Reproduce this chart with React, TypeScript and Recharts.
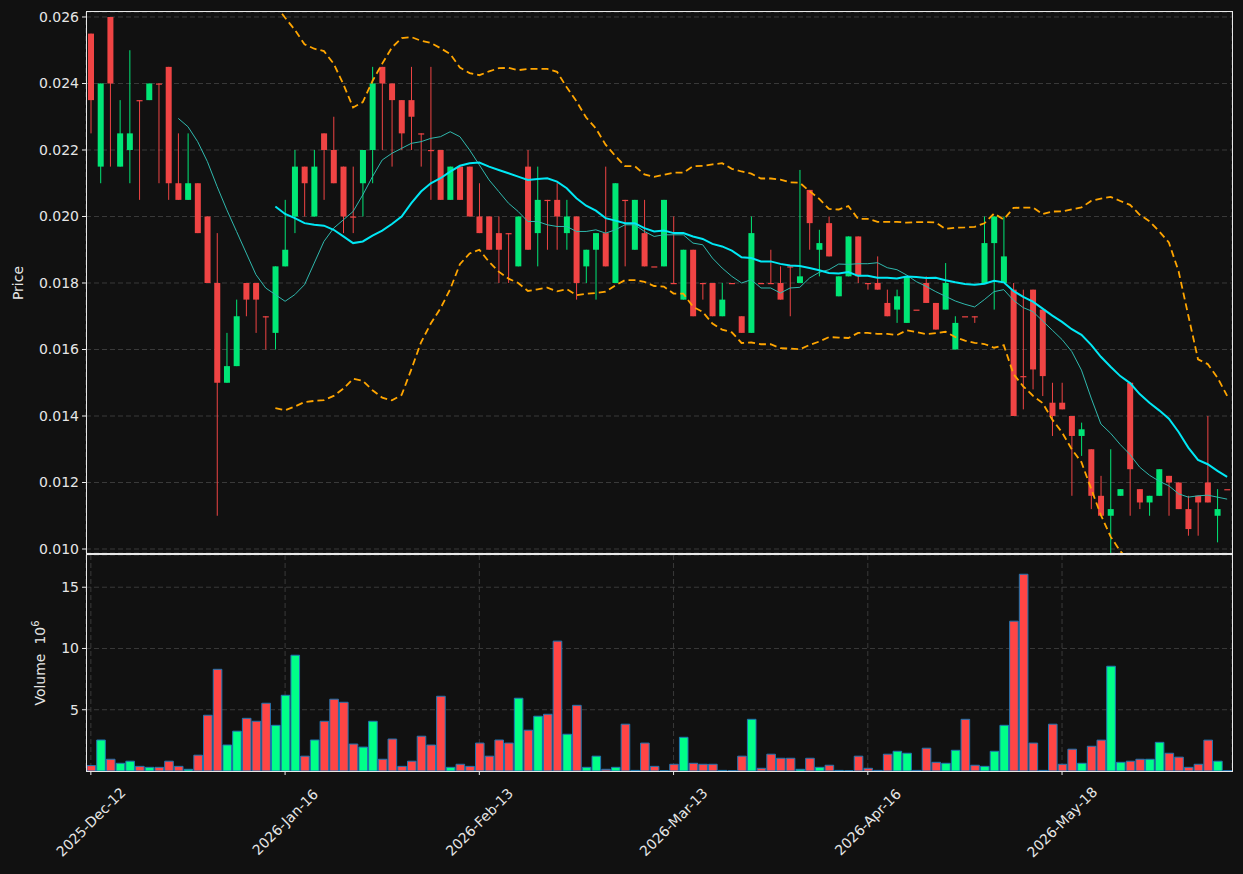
import React from 'react';
import { ComposedChart, Bar, Line, XAxis, YAxis, CartesianGrid, Cell } from 'recharts';

const tickLabels = ['2025-Dec-12', '2026-Jan-16', '2026-Feb-13', '2026-Mar-13', '2026-Apr-16', '2026-May-18'];
const tickIndexes = [0, 20, 40, 60, 80, 100];
const priceTicks = [0.010, 0.012, 0.014, 0.016, 0.018, 0.020, 0.022, 0.024, 0.026];
const volumeTicks = [5, 10, 15];

const opens = [
  0.0255, 0.0215, 0.0260, 0.0215, 0.0220, 0.0235, 0.0235, 0.0240, 0.0245, 0.0210,
  0.0205, 0.0210, 0.0200, 0.0180, 0.0150, 0.0155, 0.0180, 0.0180, 0.0170, 0.0165,
  0.0185, 0.0200, 0.0215, 0.0200, 0.0225, 0.0220, 0.0215, 0.0200, 0.0210, 0.0220,
  0.0245, 0.0240, 0.0235, 0.0235, 0.0225, 0.0220, 0.0220, 0.0205, 0.0215, 0.0215,
  0.0200, 0.0200, 0.0195, 0.0195, 0.0185, 0.0215, 0.0195, 0.0205, 0.0205, 0.0195,
  0.0200, 0.0185, 0.0190, 0.0195, 0.0180, 0.0205, 0.0190, 0.0195, 0.0185, 0.0185,
  0.0180, 0.0175, 0.0190, 0.0180, 0.0180, 0.0170, 0.0180, 0.0170, 0.0165, 0.0180,
  0.0180, 0.0180, 0.0185, 0.0180, 0.0208, 0.0190, 0.0198, 0.0176, 0.0182, 0.0194,
  0.0180, 0.0180, 0.0174, 0.0172, 0.0168, 0.0172, 0.0180, 0.0174, 0.0172, 0.0160,
  0.0170, 0.0170, 0.0180, 0.0192, 0.0180, 0.0178, 0.0152, 0.0178, 0.0172, 0.0144,
  0.0144, 0.0140, 0.0134, 0.0130, 0.0116, 0.0110, 0.0116, 0.0150, 0.0118, 0.0114,
  0.0116, 0.0122, 0.0120, 0.0112, 0.0116, 0.0120, 0.0110, 0.0118,
];
const highs = [
  0.0255, 0.0240, 0.0260, 0.0235, 0.0250, 0.0235, 0.0240, 0.0240, 0.0245, 0.0225,
  0.0225, 0.0210, 0.0200, 0.0195, 0.0165, 0.0175, 0.0180, 0.0180, 0.0170, 0.0185,
  0.0205, 0.0220, 0.0215, 0.0220, 0.0225, 0.0230, 0.0215, 0.0215, 0.0220, 0.0245,
  0.0245, 0.0240, 0.0235, 0.0245, 0.0225, 0.0245, 0.0220, 0.0215, 0.0215, 0.0215,
  0.0210, 0.0200, 0.0200, 0.0195, 0.0200, 0.0220, 0.0215, 0.0205, 0.0210, 0.0205,
  0.0200, 0.0190, 0.0195, 0.0215, 0.0210, 0.0205, 0.0205, 0.0205, 0.0185, 0.0205,
  0.0200, 0.0190, 0.0190, 0.0180, 0.0180, 0.0180, 0.0180, 0.0170, 0.0200, 0.0180,
  0.0190, 0.0185, 0.0185, 0.0214, 0.0208, 0.0196, 0.0200, 0.0182, 0.0194, 0.0194,
  0.0180, 0.0188, 0.0178, 0.0178, 0.0182, 0.0172, 0.0182, 0.0174, 0.0186, 0.0170,
  0.0170, 0.0170, 0.0200, 0.0200, 0.0200, 0.0180, 0.0178, 0.0178, 0.0172, 0.0150,
  0.0150, 0.0140, 0.0138, 0.0130, 0.0122, 0.0130, 0.0118, 0.0150, 0.0118, 0.0116,
  0.0124, 0.0122, 0.0120, 0.0116, 0.0116, 0.0140, 0.0118, 0.0118,
];
const lows = [
  0.0225, 0.0210, 0.0215, 0.0215, 0.0210, 0.0205, 0.0235, 0.0210, 0.0205, 0.0205,
  0.0205, 0.0195, 0.0180, 0.0110, 0.0150, 0.0155, 0.0170, 0.0165, 0.0160, 0.0160,
  0.0185, 0.0195, 0.0200, 0.0200, 0.0205, 0.0210, 0.0195, 0.0195, 0.0200, 0.0210,
  0.0220, 0.0215, 0.0220, 0.0220, 0.0215, 0.0205, 0.0205, 0.0205, 0.0205, 0.0200,
  0.0195, 0.0190, 0.0180, 0.0180, 0.0185, 0.0190, 0.0185, 0.0190, 0.0190, 0.0190,
  0.0175, 0.0180, 0.0175, 0.0185, 0.0180, 0.0185, 0.0190, 0.0185, 0.0185, 0.0185,
  0.0180, 0.0175, 0.0170, 0.0175, 0.0170, 0.0170, 0.0180, 0.0165, 0.0165, 0.0180,
  0.0180, 0.0175, 0.0170, 0.0180, 0.0190, 0.0182, 0.0188, 0.0176, 0.0182, 0.0180,
  0.0178, 0.0178, 0.0170, 0.0168, 0.0168, 0.0172, 0.0174, 0.0166, 0.0172, 0.0160,
  0.0170, 0.0168, 0.0180, 0.0172, 0.0180, 0.0140, 0.0142, 0.0148, 0.0146, 0.0134,
  0.0142, 0.0116, 0.0128, 0.0112, 0.0110, 0.0098, 0.0116, 0.0110, 0.0112, 0.0110,
  0.0116, 0.0110, 0.0112, 0.0104, 0.0104, 0.0114, 0.0102, 0.0118,
];
const closes = [
  0.0235, 0.0240, 0.0240, 0.0225, 0.0225, 0.0235, 0.0240, 0.0240, 0.0210, 0.0205,
  0.0210, 0.0195, 0.0180, 0.0150, 0.0155, 0.0170, 0.0175, 0.0175, 0.0170, 0.0185,
  0.0190, 0.0215, 0.0210, 0.0215, 0.0220, 0.0210, 0.0200, 0.0200, 0.0220, 0.0240,
  0.0240, 0.0235, 0.0225, 0.0230, 0.0225, 0.0220, 0.0205, 0.0215, 0.0205, 0.0200,
  0.0195, 0.0190, 0.0190, 0.0195, 0.0200, 0.0190, 0.0205, 0.0205, 0.0200, 0.0200,
  0.0180, 0.0190, 0.0195, 0.0185, 0.0210, 0.0205, 0.0205, 0.0185, 0.0185, 0.0205,
  0.0180, 0.0190, 0.0170, 0.0180, 0.0170, 0.0175, 0.0180, 0.0165, 0.0195, 0.0180,
  0.0180, 0.0175, 0.0185, 0.0182, 0.0198, 0.0192, 0.0188, 0.0182, 0.0194, 0.0182,
  0.0180, 0.0178, 0.0170, 0.0176, 0.0182, 0.0172, 0.0174, 0.0166, 0.0180, 0.0168,
  0.0170, 0.0170, 0.0192, 0.0200, 0.0188, 0.0140, 0.0152, 0.0154, 0.0152, 0.0140,
  0.0142, 0.0134, 0.0136, 0.0116, 0.0110, 0.0112, 0.0118, 0.0124, 0.0114, 0.0116,
  0.0124, 0.0120, 0.0112, 0.0106, 0.0114, 0.0114, 0.0112, 0.0118,
];
// volume in millions
const volumes = [
  0.44, 2.53, 0.96, 0.63, 0.80, 0.38, 0.30, 0.30, 0.80, 0.38,
  0.14, 1.29, 4.55, 8.30, 2.12, 3.25, 4.30, 4.06, 5.53, 3.73,
  6.18, 9.45, 1.21, 2.53, 4.06, 5.86, 5.61, 2.20, 1.95, 4.06,
  0.96, 2.61, 0.38, 0.80, 2.84, 2.12, 6.10, 0.30, 0.55, 0.38,
  2.28, 1.21, 2.53, 2.28, 5.94, 3.33, 4.47, 4.63, 10.60, 3.00,
  5.36, 0.30, 1.21, 0.14, 0.30, 3.82, 0.05, 2.28, 0.38, 0.02,
  0.55, 2.75, 0.63, 0.55, 0.55, 0.05, 0.02, 1.21, 4.22, 0.22,
  1.37, 1.04, 1.04, 0.14, 1.04, 0.30, 0.47, 0.05, 0.02, 1.21,
  0.22, 0.05, 1.37, 1.61, 1.45, 0.05, 1.86, 0.71, 0.63, 1.69,
  4.22, 0.47, 0.38, 1.61, 3.73, 12.23, 16.06, 2.28, 0.05, 3.82,
  0.55, 1.78, 0.63, 2.02, 2.52, 8.55, 0.71, 0.80, 0.96, 0.96,
  2.34, 1.45, 1.13, 0.30, 0.55, 2.52, 0.80, 0.02,
];

const UP = '#00e676';
const DOWN = '#ef4444';
const VOL_UP = '#00ff88';
const VOL_DOWN = '#ff4545';
const GRID = '#3a3a3a';
const TEXT = '#e6e6e6';
const FRAME = '#e8e8e8';

// Indicators derived from the read closes (10 & 20 period SMA, 20-period Bollinger bands)
const smaAt = (n: number, i: number): number | null => {
  if (i < n - 1) return null;
  let s = 0;
  for (let k = i - n + 1; k <= i; k++) s += closes[k];
  return s / n;
};
const stdAt = (n: number, i: number): number | null => {
  const m = smaAt(n, i);
  if (m === null) return null;
  let s = 0;
  for (let k = i - n + 1; k <= i; k++) s += (closes[k] - m) * (closes[k] - m);
  return Math.sqrt(s / n);
};

const rows = closes.map((c, i) => {
  const m20 = smaAt(20, i);
  const sd = stdAt(20, i);
  return {
    i,
    open: opens[i],
    high: highs[i],
    low: lows[i],
    close: c,
    range: [lows[i], highs[i]],
    vol: volumes[i],
    up: c > opens[i],
    ma10: smaAt(10, i),
    ma20: m20,
    bbUp: m20 !== null && sd !== null ? m20 + 2 * sd : null,
    bbLo: m20 !== null && sd !== null ? m20 - 2 * sd : null,
  };
});

const Candle = (props: any) => {
  const { x, y, width, height, payload } = props;
  if (x == null || y == null || !payload) return null;
  const h = height || 0;
  const top = Math.min(y, y + h);
  const bot = Math.max(y, y + h);
  const span = payload.high - payload.low;
  const k = span > 0 ? (bot - top) / span : 0;
  const yO = top + (payload.high - payload.open) * k;
  const yC = top + (payload.high - payload.close) * k;
  const color = payload.close > payload.open ? UP : DOWN;
  const cx = x + width / 2;
  const bTop = Math.min(yO, yC);
  const bH = Math.max(Math.abs(yO - yC), 1.2);
  return (
    <g>
      {bot - top > 0 && <line x1={cx} x2={cx} y1={top} y2={bot} stroke={color} strokeWidth={1} />}
      <rect x={x} y={bTop} width={width} height={bH} fill={color} />
    </g>
  );
};

const DateTick = (props: any) => {
  const { x, y, payload } = props;
  const idx = tickIndexes.indexOf(Number(payload.value));
  if (idx < 0) return null;
  const cy = y + 45;
  return (
    <text
      x={x}
      y={cy}
      textAnchor="middle"
      dominantBaseline="central"
      fill={TEXT}
      fontSize={14}
      transform={`rotate(-45 ${x} ${cy})`}
    >
      {tickLabels[idx]}
    </text>
  );
};

export default function App() {
  return (
    <div
      style={{
        position: 'absolute',
        left: 0,
        top: 0,
        width: 1243,
        height: 874,
        background: '#111111',
        fontFamily: 'DejaVu Sans, sans-serif',
        overflow: 'hidden',
      }}
    >
      <div style={{ position: 'absolute', left: 0, top: 0 }}>
        <ComposedChart width={1243} height={560} data={rows} margin={{ top: 12, right: 11, bottom: 7, left: 0 }}>
          <CartesianGrid stroke={GRID} strokeDasharray="5 3" />
          <XAxis dataKey="i" type="category" interval={19} height={0} tick={false} tickLine={false} axisLine={false} />
          <YAxis
            width={86}
            domain={[0.00988, 0.02615]}
            ticks={priceTicks}
            allowDataOverflow
            tickFormatter={(v: number) => v.toFixed(3)}
            tick={{ fill: TEXT, fontSize: 14 }}
            tickLine={{ stroke: FRAME }}
            axisLine={false}
            tickSize={4}
            tickMargin={3}
            label={{
              content: () => (
                <text x={23} y={283} textAnchor="middle" fill={TEXT} fontSize={14} transform="rotate(-90 23 283)">
                  Price
                </text>
              ),
            }}
          />
          <Bar dataKey="range" barSize={6} shape={Candle} isAnimationActive={false} />
          <Line dataKey="ma10" stroke="#2fb8ad" strokeWidth={1} dot={false} activeDot={false} isAnimationActive={false} />
          <Line dataKey="ma20" stroke="#00e8f5" strokeWidth={2} dot={false} activeDot={false} isAnimationActive={false} />
          <Line dataKey="bbUp" stroke="#ffa500" strokeWidth={1.8} strokeDasharray="7 4" dot={false} activeDot={false} isAnimationActive={false} />
          <Line dataKey="bbLo" stroke="#ffa500" strokeWidth={1.8} strokeDasharray="7 4" dot={false} activeDot={false} isAnimationActive={false} />
        </ComposedChart>
      </div>
      <div style={{ position: 'absolute', left: 0, top: 555 }}>
        <ComposedChart width={1243} height={319} data={rows} margin={{ top: 0, right: 11, bottom: 0, left: 0 }}>
          <CartesianGrid stroke={GRID} strokeDasharray="5 3" />
          <XAxis
            dataKey="i"
            type="category"
            interval={19}
            height={103}
            tick={<DateTick />}
            tickLine={{ stroke: FRAME }}
            axisLine={false}
            tickSize={4}
          />
          <YAxis
            width={86}
            domain={[0, 17.63]}
            ticks={volumeTicks}
            allowDataOverflow
            tick={{ fill: TEXT, fontSize: 14 }}
            tickLine={{ stroke: FRAME }}
            axisLine={false}
            tickSize={4}
            tickMargin={3}
            label={{
              content: () => (
                <text x={45} y={108} textAnchor="middle" fill={TEXT} fontSize={14} transform="rotate(-90 45 108)">
                  Volume{'\u00a0\u00a0'}10
                  <tspan dy={-6} fontSize={10}>6</tspan>
                </text>
              ),
            }}
          />
          <Bar dataKey="vol" barSize={8.6} stroke="#1f77b4" strokeWidth={1} isAnimationActive={false}>
            {rows.map((r) => (
              <Cell key={'c' + r.i} fill={r.up ? VOL_UP : VOL_DOWN} />
            ))}
          </Bar>
        </ComposedChart>
      </div>
      <div
        style={{
          position: 'absolute',
          left: 86,
          top: 11,
          width: 1147,
          height: 543,
          border: `1px solid ${FRAME}`,
          boxSizing: 'border-box',
          pointerEvents: 'none',
        }}
      />
      <div
        style={{
          position: 'absolute',
          left: 86,
          top: 554,
          width: 1147,
          height: 218,
          border: `1px solid ${FRAME}`,
          boxSizing: 'border-box',
          pointerEvents: 'none',
        }}
      />
    </div>
  );
}
